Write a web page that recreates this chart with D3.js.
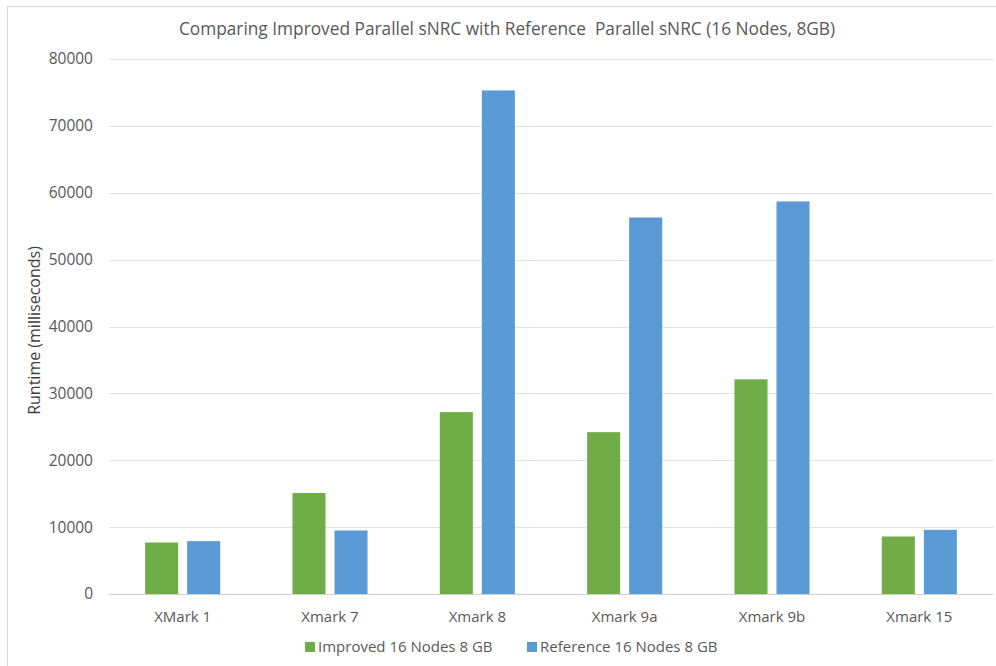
<!DOCTYPE html>
<html>
<head>
<meta charset="utf-8">
<script src="https://cdn.jsdelivr.net/npm/d3@7/dist/d3.min.js"></script>
<style>
  html, body { margin: 0; padding: 0; background: #fff; }
  svg text { font-family: "Open Sans", "Noto Sans", sans-serif; }
</style>
</head>
<body>
<svg id="chart" width="996" height="666"></svg>
<script>
// Benchmark queries and runtimes (milliseconds)
const categories = ["XMark 1", "Xmark 7", "Xmark 8", "Xmark 9a", "Xmark 9b", "Xmark 15"];
const seriesNames = ["Improved 16 Nodes 8 GB", "Reference 16 Nodes 8 GB"];
const improved = [7700, 15100, 27200, 24200, 32100, 8600];
const reference = [7900, 9500, 75300, 56300, 58700, 9600];
const yTicks = [0, 10000, 20000, 30000, 40000, 50000, 60000, 70000, 80000];
const colors = ["#70AD47", "#5B9BD5"];

const title = "Comparing Improved Parallel sNRC with Reference\u00A0 Parallel sNRC (16 Nodes, 8GB)";
const yTitle = "Runtime (milliseconds)";

const svg = d3.select("#chart");
const W = 996, H = 666;
const margin = { left: 109, right: 3, top: 59, bottom: 72 };
const plotW = W - margin.left - margin.right;
const plotH = H - margin.top - margin.bottom;

// chart frame
svg.append("rect")
  .attr("x", 7.5).attr("y", 6.5)
  .attr("width", W).attr("height", H)
  .attr("fill", "#fff").attr("stroke", "#d9d9d9").attr("stroke-width", 1);

const g = svg.append("g").attr("transform", `translate(${margin.left},${margin.top})`);

const x0 = d3.scaleBand().domain(categories).range([0, plotW]).padding(0);
const x1 = d3.scaleBand().domain(seriesNames).range([0, x0.bandwidth()])
  .paddingInner(0.214).paddingOuter(0.86);
const y = d3.scaleLinear().domain([0, 80000]).range([plotH, 0]);

// gridlines
g.append("g").selectAll("line").data(yTicks).join("line")
  .attr("x1", 0).attr("x2", plotW)
  .attr("y1", d => Math.round(y(d)) + 0.5).attr("y2", d => Math.round(y(d)) + 0.5)
  .attr("stroke", d => d === 0 ? "#d0d0d0" : "#e2e2e2").attr("stroke-width", 1);

// y tick labels
g.append("g").selectAll("text").data(yTicks).join("text")
  .attr("x", -16).attr("y", d => y(d))
  .attr("dy", "0.35em")
  .attr("text-anchor", "end")
  .attr("font-size", 15.5).attr("fill", "#595959")
  .text(d => d);

// bars
const rows = categories.map((c, i) => ({ cat: c, values: [improved[i], reference[i]] }));
const groups = g.append("g").selectAll("g").data(rows).join("g")
  .attr("transform", d => `translate(${x0(d.cat)},0)`);
groups.selectAll("rect")
  .data(d => d.values.map((v, k) => ({ name: seriesNames[k], v, k })))
  .join("rect")
  .attr("x", d => x1(d.name))
  .attr("width", x1.bandwidth())
  .attr("y", d => y(d.v))
  .attr("height", d => y(0) - y(d.v))
  .attr("fill", d => colors[d.k]);

// x labels
g.append("g").selectAll("text").data(categories).join("text")
  .attr("x", d => x0(d) + x0.bandwidth() / 2)
  .attr("y", plotH + 28)
  .attr("text-anchor", "middle")
  .attr("font-size", 15).attr("fill", "#595959")
  .text(d => d);

// title
svg.append("text")
  .attr("x", 507).attr("y", 35)
  .attr("text-anchor", "middle")
  .attr("font-size", 17.3).attr("fill", "#595959")
  .text(title);

// y axis title
svg.append("text")
  .attr("transform", `translate(40,${margin.top + plotH / 2 + 4}) rotate(-90)`)
  .attr("text-anchor", "middle")
  .attr("font-size", 16).attr("fill", "#404040")
  .text(yTitle);

// legend
const legend = svg.append("g");
const legendX = [305, 527];
seriesNames.forEach((name, k) => {
  legend.append("rect")
    .attr("x", legendX[k]).attr("y", 642)
    .attr("width", 10).attr("height", 10)
    .attr("fill", colors[k]);
  legend.append("text")
    .attr("x", legendX[k] + 13).attr("y", 647)
    .attr("dy", "0.35em")
    .attr("font-size", 15).attr("fill", "#595959")
    .text(name);
});
</script>
</body>
</html>
